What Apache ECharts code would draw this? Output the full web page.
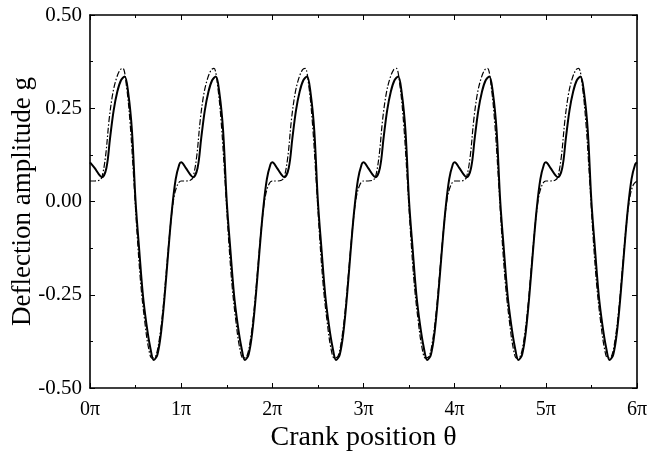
<!DOCTYPE html>
<html><head><meta charset="utf-8">
<script src="https://cdn.jsdelivr.net/npm/echarts@6/dist/echarts.min.js"></script>
<style>html,body{margin:0;padding:0;background:#fff}#c{width:651px;height:455px}</style>
</head><body><div id="c"></div>
<script>
// Crank position in units of pi
const xTicks = [0, 1, 2, 3, 4, 5, 6];
const yTicks = [-0.5, -0.25, 0, 0.25, 0.5];

const solidTheta = [
 0.00,0.05,0.10,0.13,0.18,0.22,0.26,0.30,0.34,0.38,0.42,0.46,0.50,0.54,0.58,0.62,0.66,0.70,0.74,0.78,0.82,0.86,0.90,0.94,0.98,
 1.00,1.05,1.10,1.13,1.18,1.22,1.26,1.30,1.34,1.38,1.42,1.46,1.50,1.54,1.58,1.62,1.66,1.70,1.74,1.78,1.82,1.86,1.90,1.94,1.98,
 2.00,2.05,2.10,2.13,2.18,2.22,2.26,2.30,2.34,2.38,2.42,2.46,2.50,2.54,2.58,2.62,2.66,2.70,2.74,2.78,2.82,2.86,2.90,2.94,2.98,
 3.00,3.05,3.10,3.13,3.18,3.22,3.26,3.30,3.34,3.38,3.42,3.46,3.50,3.54,3.58,3.62,3.66,3.70,3.74,3.78,3.82,3.86,3.90,3.94,3.98,
 4.00,4.05,4.10,4.13,4.18,4.22,4.26,4.30,4.34,4.38,4.42,4.46,4.50,4.54,4.58,4.62,4.66,4.70,4.74,4.78,4.82,4.86,4.90,4.94,4.98,
 5.00,5.05,5.10,5.13,5.18,5.22,5.26,5.30,5.34,5.38,5.42,5.46,5.50,5.54,5.58,5.62,5.66,5.70,5.74,5.78,5.82,5.86,5.90,5.94,5.98,
 6.00];
const solidG = [
 0.105,0.090,0.072,0.065,0.090,0.170,0.245,0.295,0.325,0.335,0.290,0.190,0.000,-0.130,-0.250,-0.330,-0.390,-0.425,-0.410,-0.350,-0.250,-0.130,-0.020,0.060,0.100,
 0.105,0.090,0.072,0.065,0.090,0.170,0.245,0.295,0.325,0.335,0.290,0.190,0.000,-0.130,-0.250,-0.330,-0.390,-0.425,-0.410,-0.350,-0.250,-0.130,-0.020,0.060,0.100,
 0.105,0.090,0.072,0.065,0.090,0.170,0.245,0.295,0.325,0.335,0.290,0.190,0.000,-0.130,-0.250,-0.330,-0.390,-0.425,-0.410,-0.350,-0.250,-0.130,-0.020,0.060,0.100,
 0.105,0.090,0.072,0.065,0.090,0.170,0.245,0.295,0.325,0.335,0.290,0.190,0.000,-0.130,-0.250,-0.330,-0.390,-0.425,-0.410,-0.350,-0.250,-0.130,-0.020,0.060,0.100,
 0.105,0.090,0.072,0.065,0.090,0.170,0.245,0.295,0.325,0.335,0.290,0.190,0.000,-0.130,-0.250,-0.330,-0.390,-0.425,-0.410,-0.350,-0.250,-0.130,-0.020,0.060,0.100,
 0.105,0.090,0.072,0.065,0.090,0.170,0.245,0.295,0.325,0.335,0.290,0.190,0.000,-0.130,-0.250,-0.330,-0.390,-0.425,-0.410,-0.350,-0.250,-0.130,-0.020,0.060,0.100,
 0.105];

const dashTheta = [
 0.00,0.05,0.10,0.13,0.17,0.21,0.25,0.29,0.33,0.36,0.40,0.44,0.48,0.52,0.56,0.60,0.64,0.68,0.72,0.76,0.80,0.84,0.88,0.92,0.96,
 1.00,1.05,1.10,1.13,1.17,1.21,1.25,1.29,1.33,1.36,1.40,1.44,1.48,1.52,1.56,1.60,1.64,1.68,1.72,1.76,1.80,1.84,1.88,1.92,1.96,
 2.00,2.05,2.10,2.13,2.17,2.21,2.25,2.29,2.33,2.36,2.40,2.44,2.48,2.52,2.56,2.60,2.64,2.68,2.72,2.76,2.80,2.84,2.88,2.92,2.96,
 3.00,3.05,3.10,3.13,3.17,3.21,3.25,3.29,3.33,3.36,3.40,3.44,3.48,3.52,3.56,3.60,3.64,3.68,3.72,3.76,3.80,3.84,3.88,3.92,3.96,
 4.00,4.05,4.10,4.13,4.17,4.21,4.25,4.29,4.33,4.36,4.40,4.44,4.48,4.52,4.56,4.60,4.64,4.68,4.72,4.76,4.80,4.84,4.88,4.92,4.96,
 5.00,5.05,5.10,5.13,5.17,5.21,5.25,5.29,5.33,5.36,5.40,5.44,5.48,5.52,5.56,5.60,5.64,5.68,5.72,5.76,5.80,5.84,5.88,5.92,5.96,
 6.00];
const dashG = [
 0.055,0.055,0.057,0.065,0.120,0.220,0.290,0.330,0.353,0.357,0.310,0.210,0.060,-0.100,-0.230,-0.320,-0.390,-0.420,-0.415,-0.370,-0.290,-0.180,-0.070,0.010,0.045,
 0.055,0.055,0.057,0.065,0.120,0.220,0.290,0.330,0.353,0.357,0.310,0.210,0.060,-0.100,-0.230,-0.320,-0.390,-0.420,-0.415,-0.370,-0.290,-0.180,-0.070,0.010,0.045,
 0.055,0.055,0.057,0.065,0.120,0.220,0.290,0.330,0.353,0.357,0.310,0.210,0.060,-0.100,-0.230,-0.320,-0.390,-0.420,-0.415,-0.370,-0.290,-0.180,-0.070,0.010,0.045,
 0.055,0.055,0.057,0.065,0.120,0.220,0.290,0.330,0.353,0.357,0.310,0.210,0.060,-0.100,-0.230,-0.320,-0.390,-0.420,-0.415,-0.370,-0.290,-0.180,-0.070,0.010,0.045,
 0.055,0.055,0.057,0.065,0.120,0.220,0.290,0.330,0.353,0.357,0.310,0.210,0.060,-0.100,-0.230,-0.320,-0.390,-0.420,-0.415,-0.370,-0.290,-0.180,-0.070,0.010,0.045,
 0.055,0.055,0.057,0.065,0.120,0.220,0.290,0.330,0.353,0.357,0.310,0.210,0.060,-0.100,-0.230,-0.320,-0.390,-0.420,-0.415,-0.370,-0.290,-0.180,-0.070,0.010,0.045,
 0.055];

const xName = 'Crank position θ';
const yName = 'Deflection amplitude g';

const font = '"Liberation Serif", "DejaVu Serif", serif';
const chart = echarts.init(document.getElementById('c'), null, {renderer: 'canvas'});
const axLine = {show: true, onZero: false, lineStyle: {color: '#000', width: 1.6}};
const tickIn = {show: true, inside: true, length: 5, lineStyle: {color: '#000', width: 1}};
const minorIn = {show: true, splitNumber: 2, length: 3, lineStyle: {color: '#000', width: 1}};
chart.setOption({
  animation: false,
  backgroundColor: '#fff',
  grid: {left: 90, right: 14, top: 15, bottom: 67, containLabel: false, outerBoundsMode: 'none'},
  xAxis: [{
    type: 'value', min: xTicks[0], max: xTicks[xTicks.length - 1], interval: 1,
    position: 'bottom',
    axisLine: axLine, axisTick: tickIn, minorTick: minorIn, splitLine: {show: false},
    axisLabel: {color: '#000', fontFamily: font, fontSize: 20, margin: 12, formatter: v => v + 'π'},
    name: xName, nameLocation: 'middle', nameGap: 36, nameMoveOverlap: false,
    nameTextStyle: {color: '#000', fontFamily: font, fontSize: 28}
  }, {
    type: 'value', min: xTicks[0], max: xTicks[xTicks.length - 1], interval: 1,
    position: 'top',
    axisLine: axLine, axisTick: tickIn, minorTick: minorIn, splitLine: {show: false},
    axisLabel: {show: false}
  }],
  yAxis: [{
    type: 'value', min: yTicks[0], max: yTicks[yTicks.length - 1], interval: 0.25,
    position: 'left',
    axisLine: axLine, axisTick: tickIn, minorTick: minorIn, splitLine: {show: false},
    axisLabel: {color: '#000', fontFamily: font, fontSize: 21, margin: 8, padding: [5, 0, 0, 0], formatter: v => v.toFixed(2)},
    name: yName, nameLocation: 'middle', nameGap: 54, nameMoveOverlap: false,
    nameTextStyle: {color: '#000', fontFamily: font, fontSize: 27}
  }, {
    type: 'value', min: yTicks[0], max: yTicks[yTicks.length - 1], interval: 0.25,
    position: 'right',
    axisLine: axLine, axisTick: tickIn, minorTick: minorIn, splitLine: {show: false},
    axisLabel: {show: false}
  }],
  series: [{
    type: 'line', name: 'solid', xAxisIndex: 0, yAxisIndex: 0,
    data: solidTheta.map((t, i) => [t, solidG[i]]),
    smooth: 0.35, showSymbol: false,
    lineStyle: {color: '#000', width: 2, type: 'solid'}
  }, {
    type: 'line', name: 'dashdot', xAxisIndex: 0, yAxisIndex: 0,
    data: dashTheta.map((t, i) => [t, dashG[i]]),
    smooth: 0.35, showSymbol: false,
    lineStyle: {color: '#000', width: 1.2, type: [6, 2, 1.5, 2]}
  }]
});
</script></body></html>
